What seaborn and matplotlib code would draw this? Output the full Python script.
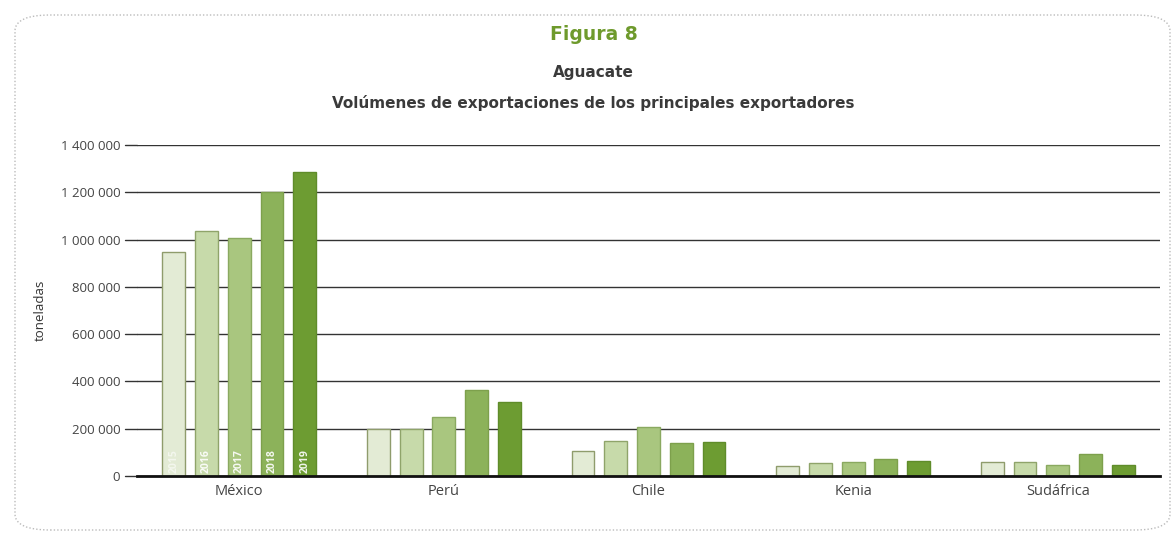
import matplotlib
matplotlib.use("Agg")
import matplotlib.pyplot as plt
from matplotlib.patches import FancyBboxPatch
import seaborn as sns
import pandas as pd

countries = ["México", "Perú", "Chile", "Kenia", "Sudáfrica"]
years = ["2015", "2016", "2017", "2018", "2019"]
v2015 = [947000, 200000, 105000, 42000, 59000]
v2016 = [1036000, 198000, 150000, 55000, 58000]
v2017 = [1006000, 250000, 208000, 58000, 48000]
v2018 = [1200000, 365000, 138000, 73000, 92000]
v2019 = [1285000, 315000, 145000, 65000, 48000]
yticks = [0, 200000, 400000, 600000, 800000, 1000000, 1200000, 1400000]
ytick_labels = ["0", "200 000", "400 000", "600 000", "800 000",
                "1 000 000", "1 200 000", "1 400 000"]

colors = ["#e3ebd5", "#c7daaa", "#a9c67f", "#8cb25a", "#6d9c32"]
edges = ["#8f9c6c", "#8fa46a", "#8aa960", "#7da04c", "#5f8c2a"]

rows = []
for y, vals in zip(years, [v2015, v2016, v2017, v2018, v2019]):
    for c, v in zip(countries, vals):
        rows.append({"país": c, "año": y, "toneladas": v})
df = pd.DataFrame(rows)

sns.set_theme(style="white")
plt.rcParams["font.family"] = ["Open Sans", "DejaVu Sans"]

fig = plt.figure(figsize=(11.75, 5.34), dpi=100)
ax = fig.add_axes([137 / 1175, 1 - 476 / 534, (1160 - 137) / 1175, (476 - 145) / 534])

sns.barplot(data=df, x="país", y="toneladas", hue="año", order=countries,
            hue_order=years, palette=colors, width=0.8, gap=0.3,
            legend=False, ax=ax, saturation=1)

for i, cont in enumerate(ax.containers):
    for p in cont:
        p.set_edgecolor(edges[i])
        p.set_linewidth(1.0)
    # year labels inside México bars
    p0 = cont[0]
    ax.text(p0.get_x() + p0.get_width() / 2, 12000, years[i], rotation=90,
            ha="center", va="bottom", fontsize=7.5, fontweight="bold",
            color="white", alpha=0.9 if i > 0 else 0.6, zorder=5)

ax.set_ylim(0, 1400000)
ax.set_xlim(-0.5, len(countries) - 0.5)
ax.set_yticks(yticks)
ax.set_yticklabels(ytick_labels)
ax.yaxis.grid(True, color="#333333", linewidth=1.0)
ax.set_axisbelow(True)
for s in ["top", "right", "left"]:
    ax.spines[s].set_visible(False)
ax.spines["bottom"].set_color("#111111")
ax.spines["bottom"].set_linewidth(2.0)
ax.tick_params(axis="y", length=0, pad=12, labelsize=9.5, labelcolor="#444444")
ax.tick_params(axis="x", length=0, pad=6, labelsize=10.5, labelcolor="#444444")
ax.set_xlabel("")
ax.set_ylabel("toneladas", fontsize=9.5, color="#333333", labelpad=4)
ax.yaxis.set_label_coords(-0.088, 0.5)

# short dashes left of gridlines
for t in yticks:
    ax.plot([-0.5 - 0.06, -0.5], [t, t], color="#333333", lw=1.0, clip_on=False)

title_font = ["Liberation Sans Narrow", "DejaVu Sans"]
fig.text(0.505, 1 - 34 / 534, "Figura 8", ha="center", va="center",
         fontsize=13.5, fontweight="bold", color="#6e9a2c", family=title_font)
fig.text(0.505, 1 - 73 / 534, "Aguacate", ha="center", va="center",
         fontsize=11, fontweight="bold", color="#3a3a3a", family=title_font)
fig.text(0.505, 1 - 103 / 534, "Volúmenes de exportaciones de los principales exportadores",
         ha="center", va="center", fontsize=11, fontweight="bold", color="#3a3a3a",
         family=title_font)

frame = FancyBboxPatch((15 / 1175, 4 / 534), (1170 - 15) / 1175, (519 - 4) / 534,
                       boxstyle="round,pad=0,rounding_size=0.03",
                       transform=fig.transFigure, fill=False,
                       edgecolor="#bbbbbb", linestyle=(0, (1, 1.5)), linewidth=1.0)
fig.patches.append(frame)

fig.savefig("out.png", dpi=100, facecolor="white")
